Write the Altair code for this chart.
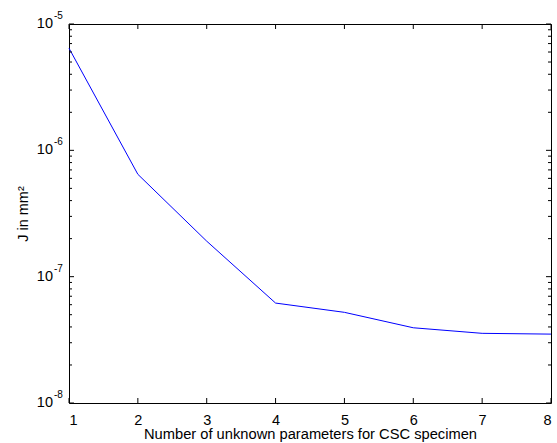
import altair as alt
import pandas as pd

# ---- data ----
params = [1, 2, 3, 4, 5, 6, 7, 8]
J = [6.43e-6, 6.46e-7, 1.91e-7, 6.18e-8, 5.22e-8, 3.94e-8, 3.56e-8, 3.51e-8]

x_ticks = [1, 2, 3, 4, 5, 6, 7, 8]
y_major = [1e-8, 1e-7, 1e-6, 1e-5]
y_exps = ["-8", "-7", "-6", "-5"]
y_minor = [k * 10.0 ** n for n in (-8, -7, -6) for k in range(2, 10)]

x_title = "Number of unknown parameters for CSC specimen"
y_title = "J in mm\u00b2"

W, H = 482, 379
FONT = "Liberation Sans"

df = pd.DataFrame({"n": params, "J": J})
xt = pd.DataFrame({"n": x_ticks})
ymaj = pd.DataFrame({"v": y_major, "e": y_exps})
ymin = pd.DataFrame({"v": y_minor})

xs = alt.Scale(domain=[1, 8], nice=False, zero=False)
ys = alt.Scale(type="log", domain=[1e-8, 1e-5], nice=False)

line = alt.Chart(df).mark_line(color="#0000ff", strokeWidth=1).encode(
    x=alt.X("n:Q", scale=xs, axis=alt.Axis(
        values=x_ticks, format="d", ticks=False, domain=False, grid=False,
        labelPadding=10, labelFontSize=14.5, labelFont=FONT, labelColor="black",
        title=x_title, titleFontSize=14.7, titleFont=FONT, titleFontWeight="normal",
        titleColor="black", titleBaseline="alphabetic", titleY=35.5)),
    y=alt.Y("J:Q", scale=ys, axis=alt.Axis(
        labels=False, ticks=False, domain=False, grid=False,
        title=y_title, titleFontSize=14.5, titleFont=FONT, titleFontWeight="normal",
        titleColor="black", titleAngle=270, titleBaseline="middle",
        titleAlign="center", titleX=-46, titleY=H / 2)),
)

tick_color = "black"
xb = alt.Chart(xt).mark_rule(color=tick_color, strokeWidth=1).encode(
    x=alt.X("n:Q", scale=xs), y=alt.value(H), y2=alt.value(H - 5))
xtop = alt.Chart(xt).mark_rule(color=tick_color, strokeWidth=1).encode(
    x=alt.X("n:Q", scale=xs), y=alt.value(0), y2=alt.value(5))

ylm = alt.Chart(ymaj).mark_rule(color=tick_color, strokeWidth=1).encode(
    y=alt.Y("v:Q", scale=ys), x=alt.value(0), x2=alt.value(5))
yrm = alt.Chart(ymaj).mark_rule(color=tick_color, strokeWidth=1).encode(
    y=alt.Y("v:Q", scale=ys), x=alt.value(W), x2=alt.value(W - 5))
yln = alt.Chart(ymin).mark_rule(color=tick_color, strokeWidth=1).encode(
    y=alt.Y("v:Q", scale=ys), x=alt.value(0), x2=alt.value(3))
yrn = alt.Chart(ymin).mark_rule(color=tick_color, strokeWidth=1).encode(
    y=alt.Y("v:Q", scale=ys), x=alt.value(W), x2=alt.value(W - 3))

base10 = alt.Chart(ymaj).mark_text(
    align="right", baseline="middle", fontSize=14.5, font=FONT, color="black"
).encode(y=alt.Y("v:Q", scale=ys), x=alt.value(-16), text=alt.value("10"))
expo = alt.Chart(ymaj).mark_text(
    align="left", baseline="middle", fontSize=10, font=FONT, color="black", dy=-8
).encode(y=alt.Y("v:Q", scale=ys), x=alt.value(-15), text="e:N")

chart = alt.layer(line, xb, xtop, ylm, yrm, yln, yrn, base10, expo).properties(
    width=W, height=H,
    autosize=alt.AutoSizeParams(type="none"),
    padding={"left": 69, "top": 24, "right": 6, "bottom": 40},
    background="white",
).configure_view(stroke="black", strokeWidth=1)

chart.save("out.html", embed_options={"renderer": "svg", "actions": False})
